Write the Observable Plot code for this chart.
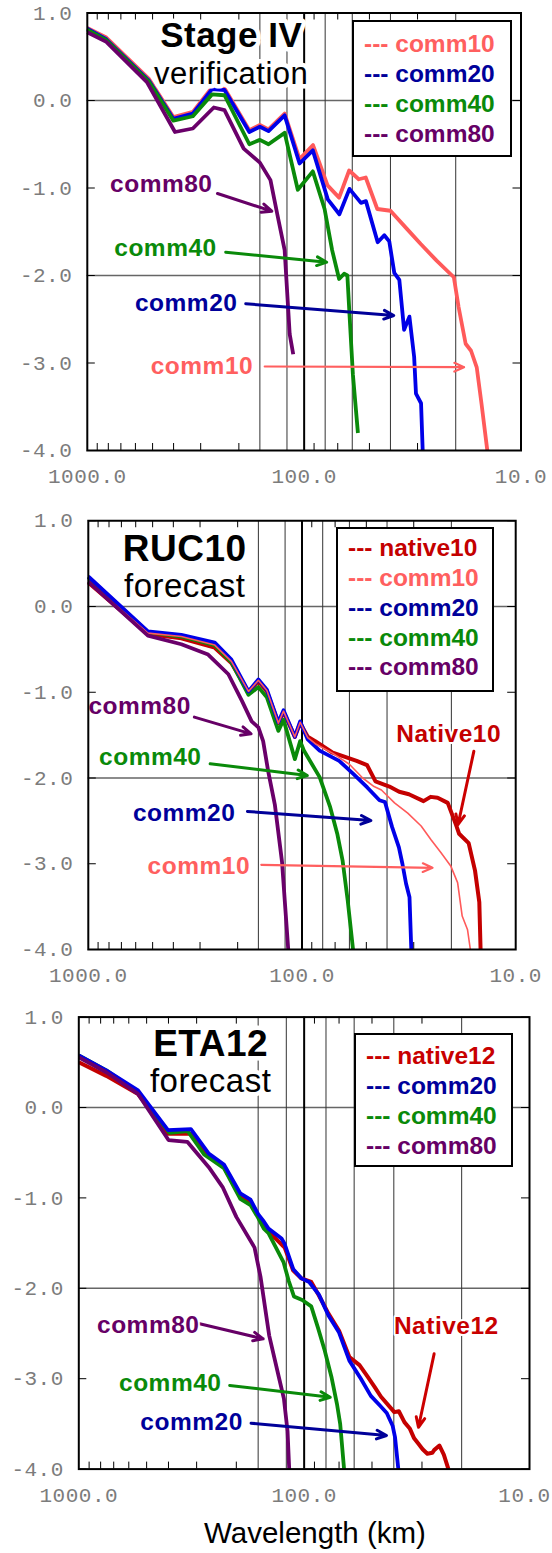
<!DOCTYPE html>
<html><head><meta charset="utf-8">
<script src="https://cdn.jsdelivr.net/npm/d3@7"></script>
<script src="https://cdn.jsdelivr.net/npm/@observablehq/plot@0.6"></script>
<style>
body{margin:0;background:#fff;overflow:hidden;}
#root{width:552px;overflow:hidden;}
.panel{position:relative;width:552px;overflow:hidden;}
.legend{position:absolute;background:#fff;border:2.5px solid #000;box-sizing:border-box;
 font:bold 24.5px "Liberation Sans",Arial,sans-serif;line-height:29.7px;white-space:nowrap;}
.caption{width:552px;height:35px;text-align:center;font:29.5px "Liberation Sans",Arial,sans-serif;line-height:30px;color:#000;}
.caption span{position:relative;left:39px;}
</style></head><body><div id="root"></div>
<script>
// ---------- axes / grid values ----------
const yTicks = [1, 0, -1, -2, -3, -4];
const xTicks = [1000, 100, 10];
const minorX = [900, 800, 700, 600, 500, 400, 300, 200, 90, 70, 50, 30];
const gridX = [160, 120, 80, 60, 40, 20];
const gridXMajor = [100];
const gridY = [0, -2];

// ---------- Stage IV verification ([wavelength km, log power]) ----------
const s4_comm10 = [[1000,0.83],[817,0.72],[521,0.25],[401,-0.19],[326,-0.13],[266,0.15],[233,0.14],[179,-0.34],[160,-0.28],[146,-0.33],[123,-0.15],[105,-0.67],[91,-0.51],[78,-0.97],[69,-1.11],[62,-0.80],[56,-0.90],[52,-0.88],[46,-1.24],[40,-1.26],[33.5,-1.47],[29,-1.64],[24.5,-1.83],[20.4,-2.02],[19.4,-2.36],[18,-2.78],[17,-2.86],[16,-3.05],[15.2,-3.47],[14.3,-4.0]];
const s4_comm20 = [[1000,0.82],[817,0.70],[521,0.23],[401,-0.21],[326,-0.15],[266,0.13],[233,0.12],[179,-0.36],[160,-0.30],[146,-0.35],[123,-0.17],[105,-0.72],[91.2,-0.57],[77.8,-1.13],[68.8,-1.30],[61.8,-1.01],[54.7,-1.17],[51.9,-1.15],[45.8,-1.62],[42.7,-1.54],[40.5,-1.61],[38.4,-1.97],[36.4,-2.05],[34.6,-2.62],[32.7,-2.47],[31.1,-2.93],[30.5,-3.35],[28.9,-3.46],[28.4,-4.0]];
const s4_comm40 = [[1000,0.81],[817,0.69],[521,0.22],[401,-0.23],[326,-0.18],[266,0.07],[233,0.06],[179,-0.50],[160,-0.45],[146,-0.50],[123,-0.37],[107,-1.02],[91.2,-0.81],[80.5,-1.24],[74.3,-1.71],[69,-2.04],[65.4,-1.98],[63.2,-2.0],[61.7,-2.47],[59.6,-3.13],[56.5,-3.80]];
const s4_comm80 = [[1000,0.78],[817,0.67],[531,0.21],[394,-0.36],[326,-0.32],[261,-0.08],[233,-0.11],[190,-0.55],[160,-0.71],[143,-0.91],[133,-1.30],[123,-1.71],[116.6,-2.67],[112.3,-2.90]];

// ---------- RUC10 forecast ----------
const ruc_native10 = [[1000,0.28],[526,-0.32],[367,-0.37],[256,-0.48],[214,-0.66],[178,-1.00],[160,-0.87],[146,-0.99],[129,-1.36],[122,-1.23],[108,-1.52],[102,-1.36],[94,-1.52],[86.7,-1.57],[72.4,-1.70],[55.5,-1.80],[49.6,-1.85],[45.3,-2.04],[39,-2.10],[35.1,-2.16],[31.6,-2.19],[27,-2.27],[25,-2.22],[23.2,-2.23],[20.8,-2.29],[19,-2.55],[18.4,-2.65],[16.6,-2.76],[15.5,-3.08],[14.8,-3.45],[14.6,-4.0]];
const ruc_comm10 = [[1000,0.29],[526,-0.31],[367,-0.35],[256,-0.45],[214,-0.64],[178,-0.99],[160,-0.86],[146,-0.98],[129,-1.36],[122,-1.22],[108,-1.52],[102,-1.35],[94,-1.53],[86.7,-1.60],[72,-1.71],[60,-1.84],[52,-2.0],[46,-2.10],[42.5,-2.14],[36.9,-2.29],[32,-2.41],[27.7,-2.56],[24.9,-2.72],[22.4,-2.87],[20.1,-3.03],[18.7,-3.22],[17.8,-3.61],[16.8,-3.77],[16.3,-4.0]];
const ruc_comm20 = [[1000,0.35],[526,-0.29],[367,-0.33],[256,-0.42],[214,-0.62],[178,-0.99],[160,-0.85],[146,-0.97],[129,-1.35],[122,-1.21],[108,-1.52],[102,-1.34],[94,-1.55],[82.7,-1.68],[67,-1.80],[57.7,-1.95],[49.5,-2.11],[43.4,-2.26],[40.9,-2.28],[37.9,-2.57],[35.2,-2.81],[33.9,-3.0],[32.6,-3.23],[31.4,-3.39],[30.8,-4.0]];
const ruc_comm40 = [[1000,0.34],[526,-0.30],[367,-0.35],[256,-0.45],[214,-0.65],[178,-1.03],[160,-0.94],[146,-1.06],[129,-1.45],[122,-1.32],[108,-1.78],[102,-1.57],[98,-1.68],[82.7,-1.99],[73.8,-2.34],[68.4,-2.65],[64.6,-2.96],[61.1,-3.43],[57.7,-4.0]];
const ruc_comm80 = [[1000,0.29],[526,-0.34],[367,-0.44],[275,-0.56],[221,-0.79],[191,-1.10],[172,-1.34],[160,-1.41],[152,-1.57],[144,-1.92],[134,-2.31],[124,-2.98],[116,-4.0]];

// ---------- ETA12 forecast ----------
const eta_native12 = [[1000,0.50],[755,0.35],[546,0.15],[402,-0.29],[318,-0.29],[265,-0.54],[227,-0.66],[192,-0.97],[173,-1.04],[160,-1.20],[144,-1.37],[122,-1.55],[112,-1.80],[103,-1.89],[93,-1.93],[86,-2.08],[78,-2.28],[70,-2.47],[63,-2.76],[56.8,-2.85],[52.2,-2.98],[48.7,-3.09],[45.6,-3.20],[39.8,-3.37],[38,-3.36],[35.9,-3.48],[34,-3.55],[32.5,-3.66],[31.1,-3.72],[29.8,-3.78],[28.4,-3.83],[27,-3.82],[26.5,-3.79],[25.1,-3.74],[24,-3.84],[22.9,-4.0]];
const eta_comm20 = [[1000,0.575],[755,0.41],[546,0.19],[402,-0.25],[318,-0.24],[265,-0.51],[227,-0.63],[192,-0.95],[173,-1.02],[160,-1.18],[151,-1.26],[144,-1.34],[126,-1.45],[122,-1.51],[111.7,-1.79],[102.8,-1.89],[95,-1.93],[86,-2.07],[78,-2.30],[70,-2.49],[63,-2.80],[56,-3.0],[50.6,-3.19],[46,-3.30],[43,-3.38],[40.5,-3.52],[39.5,-3.65],[38.2,-4.0]];
const eta_comm40 = [[1000,0.575],[755,0.41],[547,0.17],[396,-0.28],[329,-0.26],[278,-0.52],[227,-0.67],[192,-1.01],[173,-1.08],[160,-1.22],[151,-1.34],[144,-1.39],[123.5,-1.71],[117,-1.92],[111,-2.09],[102,-2.13],[93,-2.20],[87,-2.43],[81,-2.69],[75.5,-2.99],[71.5,-3.28],[69.2,-3.50],[66.5,-4.0]];
const eta_comm80 = [[1000,0.556],[755,0.39],[546,0.15],[400,-0.36],[330,-0.38],[265,-0.66],[230,-0.88],[200,-1.21],[166,-1.55],[156,-1.88],[143,-2.52],[129,-3.0],[123,-3.22],[118.5,-3.58],[116.5,-4.0]];

// ---------- annotations (data units: km, log power) ----------
const p1Titles = [{text:"Stage IV", km:217, v:0.617, bold:true}, {text:"verification", km:217, v:0.19, bold:false}];
const p2Titles = [{text:"RUC10", km:354, v:0.536, bold:true}, {text:"forecast", km:354, v:0.105, bold:false}];
const p3Titles = [{text:"ETA12", km:260, v:0.575, bold:true}, {text:"forecast", km:260, v:0.169, bold:false}];

const p1Labels = [{s:"comm80",text:"comm80",km:456,v:-1.04},{s:"comm40",text:"comm40",km:436,v:-1.78},{s:"comm20",text:"comm20",km:350,v:-2.40},{s:"comm10",text:"comm10",km:296,v:-3.12}];
const p1Arrows = [{s:"comm80",x1:251,y1:-1.063,x2:141,y2:-1.265},{s:"comm40",x1:230,y1:-1.734,x2:78.7,y2:-1.848},{s:"comm20",x1:186,y1:-2.323,x2:38.6,y2:-2.457},{s:"comm10",x1:152,y1:-3.04,x2:18.3,y2:-3.048}];
const p2Labels = [{s:"comm80",text:"comm80",km:575,v:-1.25},{s:"comm40",text:"comm40",km:513,v:-1.854},{s:"comm20",text:"comm20",km:356,v:-2.496},{s:"comm10",text:"comm10",km:304,v:-3.114},{s:"native10",text:"Native10",km:20.6,v:-1.586}];
const p2Arrows = [{s:"comm80",x1:319,y1:-1.29,x2:173,y2:-1.485},{s:"comm40",x1:269,y1:-1.834,x2:94.4,y2:-1.971},{s:"comm20",x1:180,y1:-2.39,x2:47.6,y2:-2.496},{s:"comm10",x1:155,y1:-3.012,x2:24.5,y2:-3.047},{s:"native10",x1:15.7,y1:-1.689,x2:18.6,y2:-2.542}];
const p3Labels = [{s:"comm80",text:"comm80",km:492,v:-2.489},{s:"comm40",text:"comm40",km:393,v:-3.131},{s:"comm20",text:"comm20",km:316,v:-3.573},{s:"native12",text:"Native12",km:23.4,v:-2.50}];
const p3Arrows = [{s:"comm80",x1:291,y1:-2.393,x2:152,y2:-2.559},{s:"comm40",x1:214,y1:-3.075,x2:76.6,y2:-3.205},{s:"comm20",x1:172,y1:-3.492,x2:43.1,y2:-3.628},{s:"native12",x1:26.5,y1:-2.725,x2:31.1,y2:-3.537}];

const p1Legend = ["comm10","comm20","comm40","comm80"];
const p2Legend = ["native10","comm10","comm20","comm40","comm80"];
const p3Legend = ["native12","comm20","comm40","comm80"];

// ---------- styles ----------
const lineColor = {native10:"#c40000", native12:"#c40000", comm10:"#ff5a5a", comm20:"#0000e8", comm40:"#0a8a0a", comm80:"#6a006a"};
const textColor = {native10:"#c40000", native12:"#c80000", comm10:"#ff5f5f", comm20:"#00009a", comm40:"#0a8a0a", comm80:"#660066"};
const arrowColor = {native10:"#cc0000", native12:"#cc0000", comm10:"#ff5f5f", comm20:"#000099", comm40:"#0a8a0a", comm80:"#660066"};

const SANS = '"Liberation Sans", Arial, sans-serif';
const MONO = '"Liberation Mono", "DejaVu Sans Mono", monospace';

function panel(cfg) {
  const {height, ml, mr, mt, mb, series, titles, labels, arrows, legend, legendBox} = cfg;
  const fw = 552 - ml - mr, fh = height - mt - mb;
  const axisStyle = {tickSize: 0, tickPadding: 18, tickFormat: d => d.toFixed(1), fontSize: 21, fontFamily: MONO, fill: "#7c7c7c", label: null};
  const marks = [
    Plot.ruleY(gridY, {stroke: "#666", strokeWidth: 1.6}),
    Plot.ruleX(gridX, {stroke: "#333", strokeWidth: 1}),
    Plot.ruleX(gridXMajor, {stroke: "#000", strokeWidth: 2}),
    Plot.tickX(minorX, {x: d => d, insetTop: fh - 7, stroke: "#000", strokeWidth: 1}),
    Plot.tickX(minorX, {x: d => d, insetBottom: fh - 7, stroke: "#000", strokeWidth: 1}),
    Plot.tickY(yTicks, {y: d => d, insetRight: fw - 8, stroke: "#000", strokeWidth: 1}),
    Plot.tickY(yTicks, {y: d => d, insetLeft: fw - 8, stroke: "#000", strokeWidth: 1}),
  ];
  for (const [name, data, w] of series) {
    marks.push(Plot.line(data, {x: d => d[0], y: d => d[1], stroke: lineColor[name], strokeWidth: w, strokeLinejoin: "round", strokeLinecap: "butt"}));
  }
  marks.push(
    Plot.arrow(arrows, {x1: "x1", y1: "y1", x2: "x2", y2: "y2", stroke: d => arrowColor[d.s], strokeWidth: d => d.s === "comm10" ? 2.2 : 3, headLength: 16, headAngle: 48}),
    Plot.text(labels, {x: "km", y: "v", text: "text", fill: d => textColor[d.s], lineAnchor: "bottom", textAnchor: "middle", fontSize: 24.5, fontWeight: "bold", fontFamily: SANS, stroke: "white", strokeWidth: 4}),
    Plot.text(titles.filter(d => d.bold), {x: "km", y: "v", text: "text", fill: "black", lineAnchor: "bottom", textAnchor: "middle", fontSize: cfg.titleSize, fontWeight: "bold", fontFamily: SANS, stroke: "white", strokeWidth: 9}),
    Plot.text(titles.filter(d => !d.bold), {x: "km", y: "v", text: "text", fill: "black", lineAnchor: "bottom", textAnchor: "middle", fontSize: cfg.subSize, fontFamily: SANS, stroke: "white", strokeWidth: 9}),
    Plot.frame({stroke: "#000", strokeWidth: 2}),
    Plot.axisX({ticks: xTicks.slice(0, 2), ...axisStyle}),
    Plot.axisX({ticks: xTicks.slice(2), ...axisStyle, dx: cfg.lastTickDx || 0}),
    Plot.axisY({ticks: yTicks, tickSize: 0, tickPadding: 15, tickFormat: d => d.toFixed(1), fontSize: 21, fontFamily: MONO, fill: "#7c7c7c", label: null})
  );
  const svg = Plot.plot({
    width: 552, height, marginLeft: ml, marginRight: mr, marginTop: mt, marginBottom: mb,
    x: {type: "log", domain: [1000, 10]},
    y: {domain: [-4, 1]},
    style: {background: "white", overflow: "visible", letterSpacing: "0.5px"},
    marks
  });
  const wrap = document.createElement("div");
  wrap.className = "panel";
  wrap.style.height = height + "px";
  wrap.appendChild(svg);
  const lg = document.createElement("div");
  lg.className = "legend";
  Object.assign(lg.style, {left: legendBox[0] + "px", top: legendBox[1] + "px", width: legendBox[2] + "px", height: legendBox[3] + "px", padding: `${legendBox[4]}px 0 0 10px`});
  for (const name of legend) {
    const row = document.createElement("div");
    row.textContent = "--- " + name;
    row.style.color = textColor[name];
    lg.appendChild(row);
  }
  wrap.appendChild(lg);
  return wrap;
}

const root = document.getElementById("root");
root.appendChild(panel({
  height: 500, ml: 86.8, mr: 31.5, mt: 12.5, mb: 50, titleSize: 35, subSize: 31,
  series: [["comm10", s4_comm10, 3.8], ["comm20", s4_comm20, 3.8], ["comm40", s4_comm40, 3.8], ["comm80", s4_comm80, 3.8]],
  titles: p1Titles, labels: p1Labels, arrows: p1Arrows, legend: p1Legend,
  legendBox: [352, 20, 160, 137, 7.4]
}));
root.appendChild(panel({
  height: 500, ml: 87.8, mr: 36.8, mt: 20.25, mb: 51, titleSize: 37, subSize: 33,
  series: [["native10", ruc_native10, 4], ["comm40", ruc_comm40, 3.8], ["comm20", ruc_comm20, 3.8], ["comm10", ruc_comm10, 1.6], ["comm80", ruc_comm80, 3.8]],
  titles: p2Titles, labels: p2Labels, arrows: p2Arrows, legend: p2Legend,
  legendBox: [336, 27, 158, 165, 4.4]
}));
root.appendChild(panel({
  height: 518, ml: 78.3, mr: 23, mt: 16.6, mb: 49.4, titleSize: 37, subSize: 33, lastTickDx: -5,
  series: [["native12", eta_native12, 4], ["comm40", eta_comm40, 3.8], ["comm20", eta_comm20, 3.8], ["comm80", eta_comm80, 3.8]],
  titles: p3Titles, labels: p3Labels, arrows: p3Arrows, legend: p3Legend,
  legendBox: [354, 33, 159, 134, 6.4]
}));
const cap = document.createElement("div");
cap.className = "caption";
cap.innerHTML = "<span>Wavelength (km)</span>";
root.appendChild(cap);
</script></body></html>
